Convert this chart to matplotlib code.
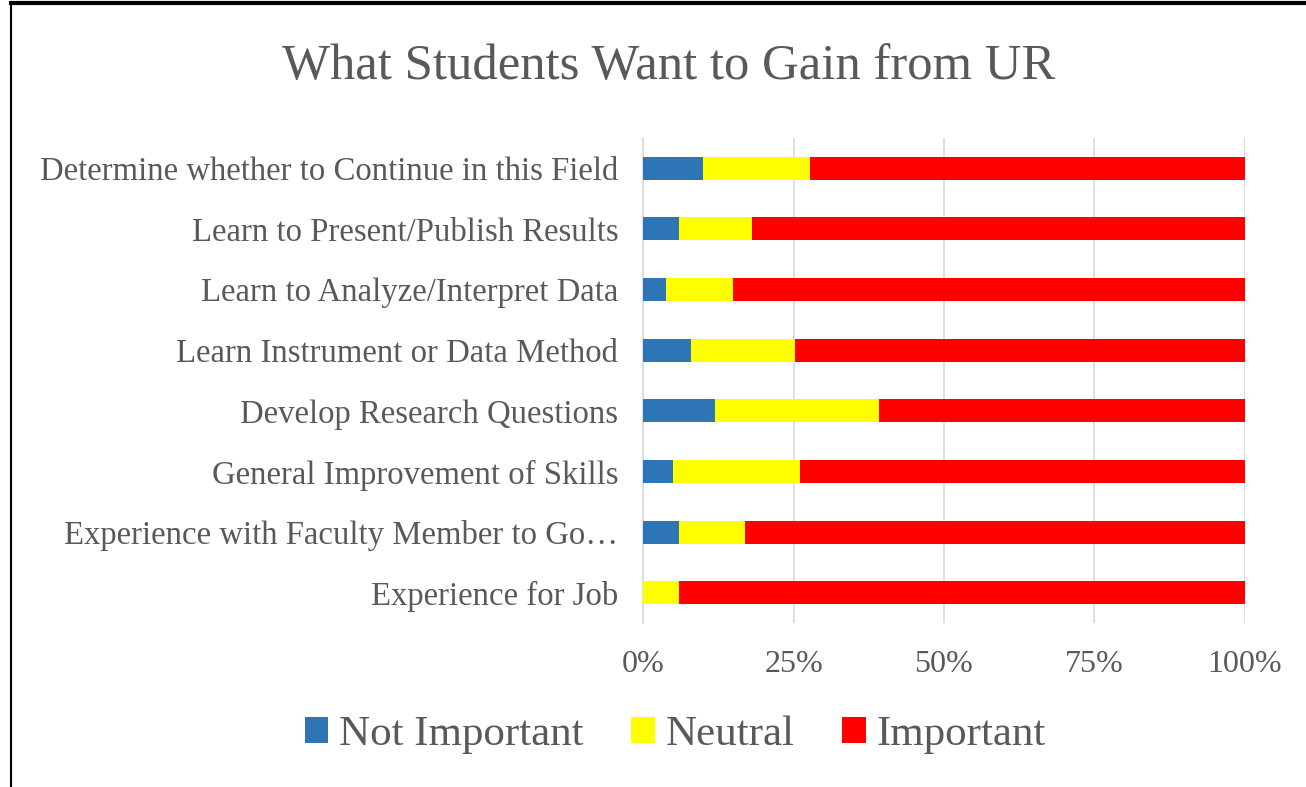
import matplotlib
matplotlib.use('Agg')
import matplotlib.pyplot as plt
import numpy as np
from matplotlib.ticker import FuncFormatter

plt.rcParams['font.family'] = ['Liberation Serif', 'DejaVu Serif']

# 数据（从上到下）
categories = ['Determine whether to Continue in this Field',
              'Learn to Present/Publish Results',
              'Learn to Analyze/Interpret Data',
              'Learn Instrument or Data Method',
              'Develop Research Questions',
              'General Improvement of Skills',
              'Experience with Faculty Member to Go\u2026',
              'Experience for Job']
not_important = [10.0, 5.9, 3.8, 7.9, 12.0, 5.0, 5.9, 0.0]
neutral = [17.8, 12.2, 11.1, 17.3, 27.2, 21.0, 11.1, 5.9]
important = [100 - a - b for a, b in zip(not_important, neutral)]
series_labels = ['Not Important', 'Neutral', 'Important']
colors = ['#2E75B6', '#FFFF00', '#FF0000']
text_color = '#595959'

fig = plt.figure(figsize=(13.06, 7.87), dpi=100)
ax = fig.add_axes([0.4925, 0.208, 0.4605, 0.617])

y = np.arange(len(categories))[::-1]
left = np.zeros(len(categories))
for vals, lab, col in zip([not_important, neutral, important], series_labels, colors):
    ax.barh(y, vals, left=left, height=0.38, color=col, label=lab, zorder=3)
    left += np.array(vals)

ax.set_xlim(0, 100)
ax.set_ylim(-0.5, len(categories) - 0.5)
ax.set_xticks([0, 25, 50, 75, 100])
ax.xaxis.set_major_formatter(FuncFormatter(lambda v, p: f'{v:.0f}%'))
ax.set_yticks(y)
ax.set_yticklabels(categories, fontsize=23.6)
ax.tick_params(axis='both', length=0, colors=text_color)
ax.tick_params(axis='x', pad=19, labelsize=23)
ax.tick_params(axis='y', pad=18)
ax.grid(True, axis='x', color='#D9D9D9', linewidth=1.2, zorder=0)
for s in ['top', 'right', 'bottom']:
    ax.spines[s].set_visible(False)
ax.spines['left'].set_color('#D9D9D9')
ax.spines['left'].set_linewidth(1.2)

fig.text(0.512, 0.915, 'What Students Want to Gain from UR', ha='center', va='center',
         fontsize=36.5, color=text_color)

leg = fig.legend(loc='center', bbox_to_anchor=(0.517, 0.066), ncol=3, frameon=False,
                 fontsize=31, handlelength=0.55, handleheight=0.55, handletextpad=0.25,
                 columnspacing=1.1, labelcolor=text_color)

# 外框
fig.add_artist(plt.Line2D([0.0085, 1.0], [0.996, 0.996], color='black', linewidth=3,
                          transform=fig.transFigure))
fig.add_artist(plt.Line2D([0.0085, 0.0085], [0.0, 0.996], color='black', linewidth=1.5,
                          transform=fig.transFigure))

plt.savefig('out.png', dpi=100)
